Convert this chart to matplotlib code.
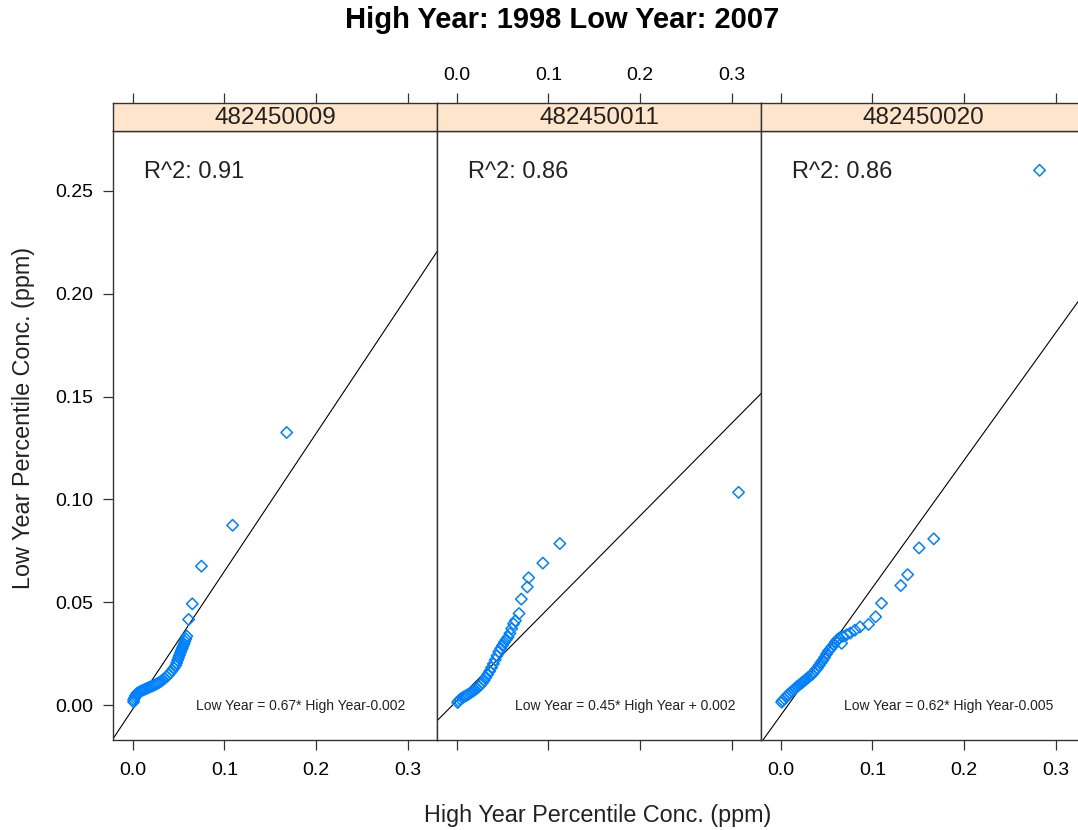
import numpy as np
import matplotlib
matplotlib.use("Agg")
import matplotlib.pyplot as plt

plt.rcParams.update({
    "font.family": ["Liberation Sans", "DejaVu Sans"],
    "xtick.labelsize": 14,
    "ytick.labelsize": 14,
    "xtick.direction": "out",
    "ytick.direction": "out",
})

#############################################
# Percentile pairs per monitor site (ppm)
#############################################
sites = ["482450009", "482450011", "482450020"]

high_009 = [0.001, 0.001, 0.002, 0.003, 0.004, 0.005, 0.007, 0.009, 0.011, 0.013,
            0.015, 0.017, 0.019, 0.021, 0.023, 0.025, 0.027, 0.029, 0.031, 0.033,
            0.035, 0.037, 0.039, 0.041, 0.043, 0.045, 0.047, 0.048, 0.049, 0.050,
            0.051, 0.052, 0.053, 0.054, 0.055, 0.056, 0.057, 0.058, 0.059, 0.061,
            0.065, 0.075, 0.109, 0.168]
low_009 = [0.0015, 0.0025, 0.0035, 0.0045, 0.0052, 0.0058, 0.0063, 0.0068, 0.0072, 0.0076,
           0.0080, 0.0084, 0.0088, 0.0092, 0.0096, 0.0100, 0.0105, 0.0110, 0.0116, 0.0123,
           0.0130, 0.0138, 0.0147, 0.0157, 0.0168, 0.0180, 0.0193, 0.0205, 0.0218, 0.0230,
           0.0242, 0.0254, 0.0265, 0.0276, 0.0287, 0.0298, 0.0310, 0.0322, 0.0335, 0.0416,
           0.0492, 0.0675, 0.0874, 0.1325]

high_011 = [0.001, 0.002, 0.004, 0.006, 0.008, 0.010, 0.012, 0.014, 0.016, 0.018,
            0.020, 0.022, 0.024, 0.026, 0.028, 0.030, 0.032, 0.034, 0.036, 0.038,
            0.040, 0.042, 0.044, 0.046, 0.048, 0.050, 0.052, 0.054, 0.056, 0.058,
            0.060, 0.062, 0.064, 0.068, 0.0705, 0.077, 0.0785, 0.0940, 0.1125, 0.3075]
low_011 = [0.0012, 0.0020, 0.0028, 0.0035, 0.0040, 0.0045, 0.0050, 0.0056, 0.0062, 0.0068,
           0.0074, 0.0081, 0.0089, 0.0098, 0.0108, 0.0120, 0.0135, 0.0150, 0.0165, 0.0182,
           0.0200, 0.0220, 0.0240, 0.0260, 0.0275, 0.0290, 0.0305, 0.0318, 0.0330, 0.0348,
           0.0372, 0.0395, 0.0410, 0.0445, 0.0515, 0.0574, 0.0619, 0.0690, 0.0785, 0.1034]

high_020 = [0.001, 0.002, 0.004, 0.006, 0.008, 0.010, 0.012, 0.014, 0.016, 0.018,
            0.020, 0.022, 0.024, 0.026, 0.028, 0.030, 0.032, 0.034, 0.036, 0.038,
            0.040, 0.042, 0.044, 0.046, 0.048, 0.050, 0.052, 0.054, 0.056, 0.058,
            0.060, 0.062, 0.064, 0.0665, 0.068, 0.072, 0.076, 0.081, 0.0865, 0.0958,
            0.1036, 0.110, 0.131, 0.1385, 0.151, 0.167, 0.2824]
low_020 = [0.0014, 0.0022, 0.0030, 0.0040, 0.0050, 0.0058, 0.0066, 0.0074, 0.0082, 0.0090,
           0.0097, 0.0104, 0.0111, 0.0119, 0.0127, 0.0134, 0.0141, 0.0148, 0.0158, 0.0170,
           0.0180, 0.0193, 0.0206, 0.0218, 0.0232, 0.0248, 0.0262, 0.0272, 0.0283, 0.0295,
           0.0308, 0.0318, 0.0326, 0.0300, 0.0334, 0.0342, 0.0350, 0.0364, 0.0380, 0.0392,
           0.0429, 0.0495, 0.0581, 0.0634, 0.0764, 0.0808, 0.2600]

high_vals = [high_009, high_011, high_020]
low_vals = [low_009, low_011, low_020]

slopes = [0.67, 0.45, 0.62]
intercepts = [-0.002, 0.002, -0.005]
r_squared = [0.91, 0.86, 0.86]
eq_labels = ["Low Year = 0.67* High Year-0.002",
             "Low Year = 0.45* High Year + 0.002",
             "Low Year = 0.62* High Year-0.005"]

x_ticks = [0.0, 0.1, 0.2, 0.3]
y_ticks = [0.00, 0.05, 0.10, 0.15, 0.20, 0.25]

#############################################
# Layout
#############################################
W, H = 1078, 830
fig = plt.figure(figsize=(W / 100, H / 100), dpi=100)

panel_left = [113, 437, 761]
panel_w = 324
panel_top, panel_bot = 131, 740
strip_h = 28
xlim = (-0.0215, 0.332)
ylim = (-0.017, 0.2791)

point_col = "#0080ff"
strip_col = "#ffe5cc"
frame_col = "#333333"

for i, site in enumerate(sites):
    l = panel_left[i] / W
    ax = fig.add_axes([l, 1 - panel_bot / H, panel_w / W, (panel_bot - panel_top) / H])
    sax = fig.add_axes([l, 1 - panel_top / H, panel_w / W, strip_h / H])

    ax.scatter(high_vals[i], low_vals[i], marker="D", s=34, facecolors="none",
               edgecolors=point_col, linewidths=1.1, zorder=3)

    xs = np.array(xlim)
    ax.plot(xs, slopes[i] * xs + intercepts[i], color="black", lw=0.8, zorder=2)

    ax.set_xlim(xlim)
    ax.set_ylim(ylim)
    ax.set_xticks(x_ticks)
    ax.set_yticks(y_ticks)
    ax.tick_params(axis="x", length=7.5, width=0.9, color=frame_col, pad=8)
    ax.tick_params(axis="y", length=7.5, width=0.9, color=frame_col, pad=7)

    # alternating tick labels, lattice style
    ax.tick_params(axis="x", labelbottom=(i != 1))
    if i == 0:
        ax.yaxis.set_major_formatter(plt.FormatStrFormatter("%.2f"))
        ax.tick_params(axis="y", left=True, labelleft=True, right=False)
    elif i == 2:
        ax.tick_params(axis="y", left=False, labelleft=False, right=True)
    else:
        ax.tick_params(axis="y", left=False, labelleft=False)
    ax.xaxis.set_major_formatter(plt.FormatStrFormatter("%.1f"))

    for sp in ax.spines.values():
        sp.set_color(frame_col)
        sp.set_linewidth(1.0)

    ax.text(0.095, 0.933, f"R^2: {r_squared[i]:.2f}", transform=ax.transAxes,
            ha="left", va="center", fontsize=17, color="#222222")
    ax.text(0.58, 0.056, eq_labels[i], transform=ax.transAxes,
            ha="center", va="center", fontsize=10, color="#222222")

    # strip with site id, ticks drawn above it
    sax.set_facecolor(strip_col)
    sax.set_xlim(xlim)
    sax.set_ylim(0, 1)
    sax.set_xticks(x_ticks)
    sax.xaxis.set_major_formatter(plt.FormatStrFormatter("%.1f"))
    sax.set_yticks([])
    sax.tick_params(axis="x", bottom=False, labelbottom=False, top=True,
                    labeltop=(i == 1), length=7.5, width=0.9, color=frame_col, pad=6)
    for sp in sax.spines.values():
        sp.set_color(frame_col)
        sp.set_linewidth(1.0)
    sax.text(0.5, 0.45, site, transform=sax.transAxes, ha="center", va="center",
             fontsize=17.5, color="#222222")

fig.text(562 / W, 1 - 20 / H, "High Year: 1998 Low Year: 2007", ha="center",
         va="center", fontsize=21, fontweight="bold")
fig.text(598 / W, 1 - 815 / H, "High Year Percentile Conc. (ppm)", ha="center",
         va="center", fontsize=16.8, color="#222222")
fig.text(24 / W, 1 - 418 / H, "Low Year Percentile Conc. (ppm)", ha="center",
         va="center", rotation=90, fontsize=16.8, color="#222222")

fig.savefig("out.png", dpi=100)
